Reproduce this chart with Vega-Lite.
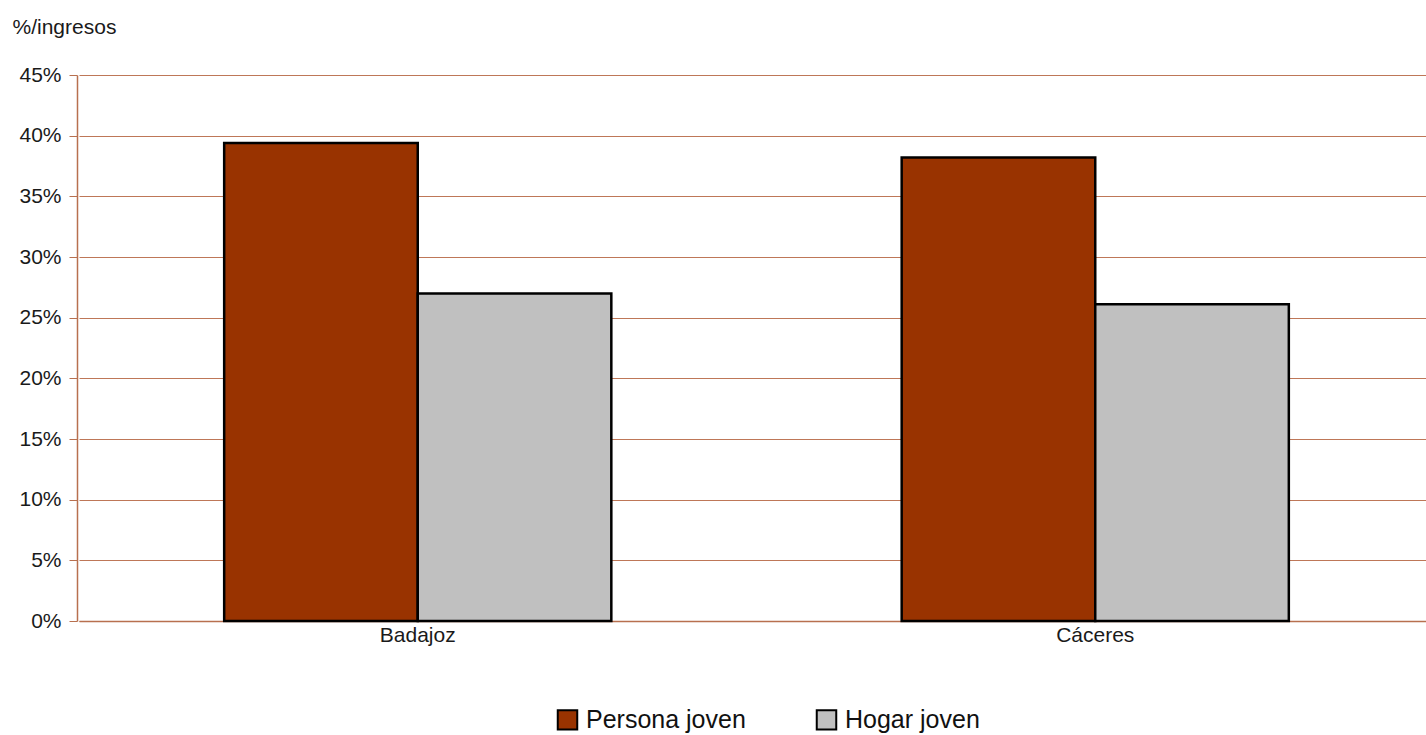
{
  "$schema": "https://vega.github.io/schema/vega-lite/v6.json",
  "width": 1355,
  "height": 546,
  "autosize": "none",
  "padding": {"left": 79, "top": 75, "right": 0, "bottom": 114},
  "background": "white",
  "data": {
    "values": [
      {"provincia": "Badajoz", "serie": "Persona joven", "valor": 0.394},
      {"provincia": "Badajoz", "serie": "Hogar joven", "valor": 0.270},
      {"provincia": "Cáceres", "serie": "Persona joven", "valor": 0.382},
      {"provincia": "Cáceres", "serie": "Hogar joven", "valor": 0.261}
    ]
  },
  "config": {
    "view": {"stroke": null},
    "font": "Liberation Sans",
    "axis": {
      "labelFont": "Liberation Sans",
      "labelFontSize": 21,
      "labelColor": "#1a1a1a",
      "domainColor": "#b8704f",
      "tickColor": "#b8704f"
    }
  },
  "mark": {"type": "bar", "stroke": "black", "strokeWidth": 2.5},
  "encoding": {
    "x": {
      "field": "provincia",
      "type": "nominal",
      "scale": {"paddingInner": 0, "paddingOuter": 0},
      "axis": {
        "title": null,
        "labelAngle": 0,
        "ticks": false,
        "labelPadding": 3,
        "domainColor": "#b8704f",
        "domainWidth": 1.5
      }
    },
    "xOffset": {
      "field": "serie",
      "type": "nominal",
      "sort": ["Persona joven", "Hogar joven"],
      "scale": {"paddingInner": 0, "paddingOuter": 0.75}
    },
    "y": {
      "field": "valor",
      "type": "quantitative",
      "scale": {"domain": [0, 0.45], "nice": false},
      "axis": {
        "format": ".0%",
        "values": [0, 0.05, 0.1, 0.15, 0.2, 0.25, 0.3, 0.35, 0.4, 0.45],
        "title": "%/ingresos",
        "titleAngle": 0,
        "titleAlign": "left",
        "titleBaseline": "middle",
        "titleX": -65,
        "titleY": -48,
        "titleFont": "Liberation Sans",
        "titleFontSize": 21,
        "titleFontWeight": "normal",
        "titleColor": "#1a1a1a",
        "offset": 2,
        "tickSize": 8,
        "labelPadding": 8,
        "grid": true,
        "gridColor": "#a84a20",
        "gridOpacity": 0.75,
        "gridWidth": 1.2,
        "domainColor": "#b8704f",
        "domainWidth": 1.5
      }
    },
    "color": {
      "field": "serie",
      "type": "nominal",
      "sort": ["Persona joven", "Hogar joven"],
      "scale": {"domain": ["Persona joven", "Hogar joven"], "range": ["#993300", "#C0C0C0"]},
      "legend": {
        "title": null,
        "orient": "none",
        "direction": "horizontal",
        "legendX": 476,
        "legendY": 632,
        "symbolType": "square",
        "symbolSize": 380,
        "symbolStrokeColor": "black",
        "symbolStrokeWidth": 2,
        "labelFont": "Liberation Sans",
        "labelFontSize": 25,
        "labelColor": "#111111",
        "labelOffset": 6,
        "columnPadding": 66,
        "labelLimit": 300
      }
    }
  }
}
